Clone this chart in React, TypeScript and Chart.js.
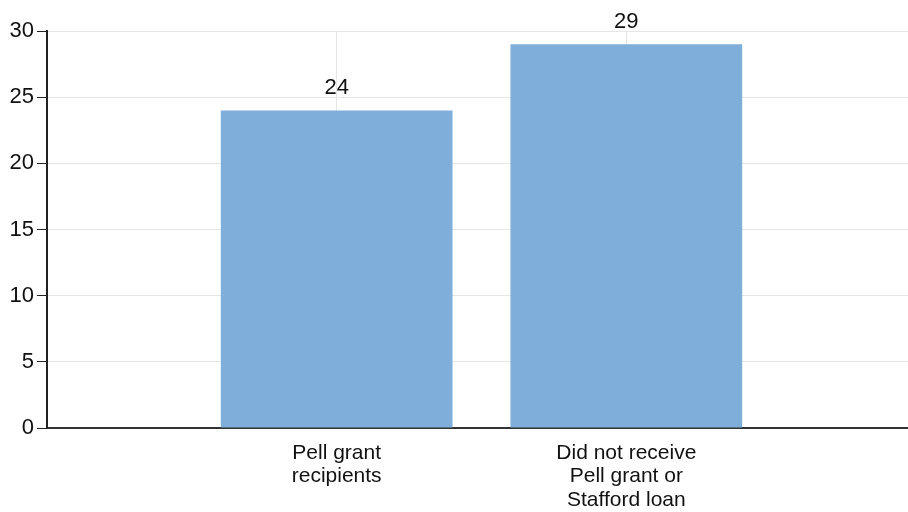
import React, { useEffect, useRef } from "react";
import { Chart, registerables } from "chart.js";

Chart.register(...registerables);

const categories: (string | string[])[] = [
  "",
  ["Pell grant", "recipients"],
  ["Did not receive", "Pell grant or", "Stafford loan"],
  "",
];
const values: (number | null)[] = [null, 24, 29, null];
const yTicks = [0, 5, 10, 15, 20, 25, 30];

const FONT = "Arial, 'Liberation Sans', sans-serif";

const valueLabels = {
  id: "valueLabels",
  afterDatasetsDraw(chart: any) {
    const ctx = chart.ctx;
    const meta = chart.getDatasetMeta(0);
    ctx.save();
    ctx.font = `22px ${FONT}`;
    ctx.fillStyle = "#111";
    ctx.textAlign = "center";
    ctx.textBaseline = "alphabetic";
    meta.data.forEach((el: any, i: number) => {
      const v = values[i];
      if (v == null) return;
      ctx.fillText(String(v), el.x, el.y - 16);
    });
    ctx.restore();
  },
};

export default function App() {
  const ref = useRef<HTMLCanvasElement | null>(null);
  useEffect(() => {
    if (!ref.current) return;
    const chart = new Chart(ref.current, {
      type: "bar",
      data: {
        labels: categories as any,
        datasets: [
          {
            data: values as any,
            backgroundColor: "#7eaed9",
            borderWidth: 0,
            barPercentage: 1,
            categoryPercentage: 0.8,
          },
        ],
      },
      options: {
        animation: false,
        responsive: true,
        maintainAspectRatio: false,
        layout: { padding: { top: 31, right: 0, bottom: 0, left: 0 } },
        plugins: { legend: { display: false }, tooltip: { enabled: false } },
        scales: {
          x: {
            offset: false,
            grid: {
              offset: false,
              drawTicks: false,
              color: (c: any) => (c.index === 1 || c.index === 2 ? "#e6e6e6" : "rgba(0,0,0,0)"),
            },
            border: { color: "#333", width: 2 },
            ticks: {
              color: "#111",
              font: { family: FONT, size: 21, lineHeight: 1.1 },
              padding: 14,
              maxRotation: 0,
              autoSkip: false,
            },
            afterFit: (s: any) => {
              s.height = 84;
              s.paddingRight = 0;
              s.paddingLeft = 0;
            },
          },
          y: {
            min: 0,
            max: 30,
            afterBuildTicks: (s: any) => {
              s.ticks = yTicks.map((v) => ({ value: v }));
            },
            grid: { color: "#e6e6e6", tickColor: "#222", tickLength: 10 },
            border: { color: "#222", width: 2 },
            ticks: {
              color: "#111",
              font: { family: FONT, size: 22 },
              padding: 3,
            },
            afterFit: (s: any) => {
              s.width = 47;
            },
          },
        },
      },
      plugins: [valueLabels],
    });
    return () => chart.destroy();
  }, []);
  return (
    <div style={{ position: "absolute", left: 0, top: 0, width: 908, height: 512, overflow: "hidden", background: "#fff" }}>
      <div style={{ position: "relative", width: 916, height: 512 }}>
        <canvas ref={ref} />
      </div>
    </div>
  );
}
